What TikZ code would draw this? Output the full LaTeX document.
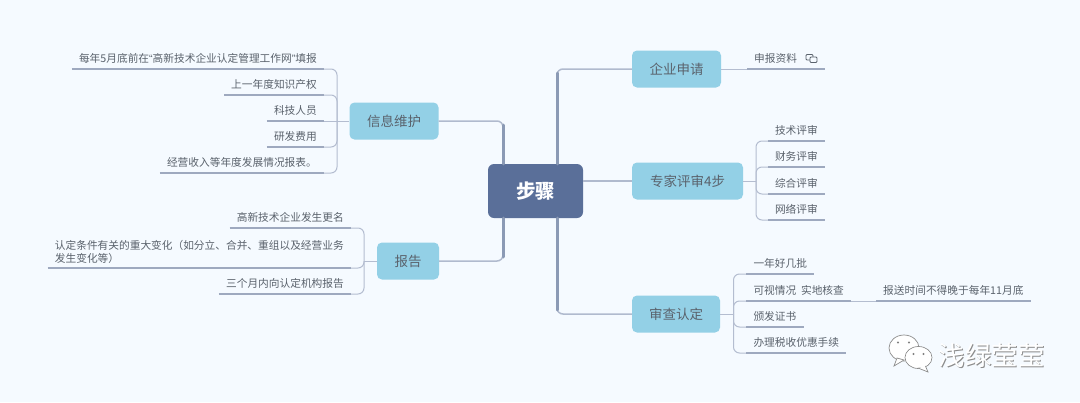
\documentclass[tikz,border=0pt]{standalone}
\usepackage{fontspec}
\setmainfont{Noto Sans CJK SC}
\newfontfamily\latinquote{Liberation Sans}
\usetikzlibrary{positioning}
\definecolor{pagebg}{HTML}{F5FAFF}
\definecolor{rootfill}{HTML}{5A6F99}
\definecolor{topicfill}{HTML}{93D0E6}
\definecolor{inktext}{HTML}{5A626C}
\definecolor{trunkline}{HTML}{8B9AB5}
\definecolor{branchline}{HTML}{B0BACE}
\definecolor{twigline}{HTML}{B4BDD0}
\definecolor{underline}{HTML}{9EA9BF}
\tikzset{
  root/.style={fill=rootfill, rounded corners=6pt, minimum width=95pt, minimum height=54pt,
               text=white, font=\fontsize{19.5}{19.5}\selectfont\bfseries},
  topic/.style={fill=topicfill, rounded corners=5pt, minimum height=37pt, inner xsep=0pt,
                text=inktext, font=\fontsize{13.5}{13.5}\selectfont},
  leaf/.style={inner xsep=7pt, inner ysep=4pt, text=inktext, text height=8.5pt, text depth=2pt,
               font=\fontsize{10.7}{13}\selectfont},
  leafl/.style={leaf, anchor=south east},
  leafr/.style={leaf, anchor=south west},
  trunk/.style={draw=trunkline, line width=3pt, line cap=round},
  branch/.style={draw=branchline, line width=1.5pt, rounded corners=6pt},
  twig/.style={draw=twigline, line width=1pt, rounded corners=6pt},
  under/.style={draw=underline, line width=1.3pt},
}
\begin{document}
\begin{tikzpicture}[x=1pt, y=-1pt]
\fill[pagebg] (0,0) rectangle (1080,402);
\useasboundingbox (0,0) rectangle (1080,402);

\node[root] (steps) at (535.5,191) {步骤};

\node[topic, minimum width=89pt] (info) at (394,121) {信息维护};
\node[topic, minimum width=62pt] (report) at (408,261) {报告};
\node[topic, minimum width=89pt] (apply) at (676.5,69) {企业申请};
\node[topic, minimum width=111pt] (expert) at (687.5,181) {专家评审4步};
\node[topic, minimum width=88pt] (review) at (676,314) {审查认定};

% spines
\coordinate (infospine) at (337,121);
\coordinate (reportspine) at (364,261);
\coordinate (expertspine) at (756,181);
\coordinate (reviewspine) at (733.5,314);

% main branches
\draw[branch] (steps.north -| 503,0) |- (info.east);
\draw[branch] (steps.south -| 503,0) |- (report.east);
\draw[branch] (steps.north -| 557,0) |- (apply.west);
\draw[branch] (steps.south -| 557,0) |- (review.west);
\draw[branch] (steps.east |- expert.west) -- (expert.west);
\draw[trunk] (steps.north -| 503,0) -- (503,125);
\draw[trunk] (steps.south -| 503,0) -- (503,257);
\draw[trunk] (steps.north -| 557,0) -- (557,73);
\draw[trunk] (steps.south -| 557,0) -- (557,310);

% info leaves
\node[leafl] (i1) at (324,69) {每年5月底前在{\latinquote“}高新技术企业认定管理工作网{\latinquote”}填报};
\node[leafl] (i2) at (324,95) {上一年度知识产权};
\node[leafl] (i3) at (324,121) {科技人员};
\node[leafl] (i4) at (324,147) {研发费用};
\node[leafl] (i5) at (324,173) {经营收入等年度发展情况报表。};
\draw[twig] (info.west) -- (i3.south east);
\foreach \n in {i1,i2,i4,i5}
  \draw[twig] (\n.south east) -| (infospine);
\foreach \n in {i1,i2,i3,i4,i5}
  \draw[under] (\n.south west) -- (\n.south east);

% report leaves
\node[leafl] (r1) at (351,228) {高新技术企业发生更名};
\node[leafl, align=left, text depth=1.5pt] (r2) at (351,268) {认定条件有关的重大变化（如分立、合并、重组以及经营业务\\发生变化等）};
\node[leafl] (r3) at (351,294) {三个月内向认定机构报告};
\draw[twig] (report.west) -- (reportspine);
\foreach \n in {r1,r2,r3}
  \draw[twig] (\n.south east) -| (reportspine);
\foreach \n in {r1,r3}
  \draw[under] (\n.south west) -- (\n.south east);
\draw[under, line width=1.8pt] (r2.south west) -- (r2.south east);

% apply leaf
\node[leafr] (a1) at (747,69) {申报资料};
\coordinate (a1end) at (825,69);
\draw[twig] (apply.east) -- (a1.south west);
\draw[under] (a1.south west) -- (a1end);
\draw[inktext, line width=.8pt, rounded corners=1pt] (806,54.5) rectangle (813,60);
\draw[inktext, line width=.8pt, fill=pagebg, rounded corners=1pt] (810,57) rectangle (817,62.5);

% expert leaves
\node[leafl] (e1) at (825,141) {技术评审};
\node[leafl] (e2) at (825,167) {财务评审};
\node[leafl] (e3) at (825,194) {综合评审};
\node[leafl] (e4) at (825,220) {网络评审};
\draw[twig] (expert.east) -- (expertspine);
\foreach \n in {e1,e2,e3,e4} {
  \draw[twig] (\n.south west) -| (expertspine);
  \draw[under] (\n.south west) -- (\n.south east);
}

% review leaves
\node[leafr] (v1) at (746.3,274) {一年好几批};
\node[leafr] (v2) at (746.3,301) {可视情况\ \ 实地核查};
\node[leafr] (v3) at (746.3,327) {颁发证书};
\node[leafr] (v4) at (746.3,353) {办理税收优惠手续};
\node[leafr] (v5) at (876,301) {报送时间不得晚于每年11月底};
\draw[twig] (review.east) -- (reviewspine);
\foreach \n in {v1,v2,v3,v4} {
  \draw[twig] (\n.south west) -| (reviewspine);
  \draw[under] (\n.south west) -- (\n.south east);
}
\draw[twig] (v2.south east) -- (v5.south west);
\draw[under] (v5.south west) -- (v5.south east);

% mark
\begin{scope}[draw=black!45, fill=white, line width=.7pt]
\filldraw (904,348) ellipse (15pt and 13pt);
\filldraw (897,358) -- (894,366) -- (904,360) -- cycle;
\filldraw (918.5,357.5) ellipse (13.5pt and 11pt);
\filldraw (925,365) -- (928,372) -- (918,368) -- cycle;
\fill[white] (918.5,357.5) ellipse (12.7pt and 10.2pt);
\end{scope}
\fill[black!50] (898,342.5) circle (1.2pt) (909,342.5) circle (1.2pt) (913.5,354) circle (1.2pt) (923.5,354) circle (1.2pt);
\node[text=black!45, font=\fontsize{26.5}{26.5}\selectfont] (markshade) at (992.5,356.5) {浅绿莹莹};
\node[text=white, font=\fontsize{26.5}{26.5}\selectfont] (mark) at (991.5,355.5) {浅绿莹莹};
\end{tikzpicture}
\end{document}
